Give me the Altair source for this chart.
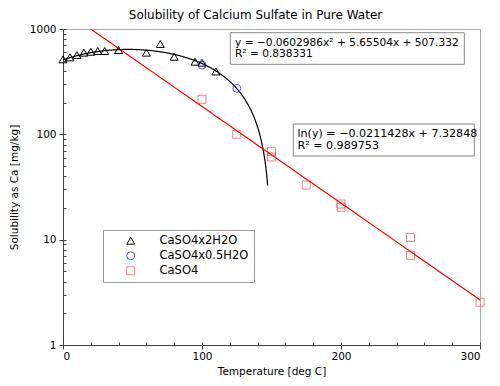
import altair as alt
import pandas as pd

series_names = ["CaSO4x2H2O", "CaSO4x0.5H2O", "CaSO4"]
series_shapes = ["triangle-up", "circle", "square"]
series_colors = ["#000000", "rgba(40,40,230,0.8)", "rgba(240,30,30,0.55)"]

dihydrate_T = [0, 5, 10, 15, 20, 25, 30, 40, 60, 70, 80, 95, 100, 110]
dihydrate_S = [515, 538, 566, 596, 608, 618, 618, 631, 596, 720, 545, 489, 479, 395]
hemihydrate_T = [100, 125]
hemihydrate_S = [455, 273]
anhydrite_T = [100, 125, 150, 150, 175, 200, 200, 250, 250, 300]
anhydrite_S = [215, 100, 69, 61, 33, 21.8, 20.3, 10.5, 7.1, 2.55]

# fit coefficients as shown in the chart
quad_coef = [-0.0602986, 5.65504, 507.332]
exp_coef = [-0.0211428, 7.32848]
quad_T_range = [0, 147.5]
exp_T_range = [0, 301]

eq1_lines = ["y = \u22120.0602986x\u00b2 + 5.65504x + 507.332", "R\u00b2 = 0.838331"]
eq2_lines = ["ln(y) = \u22120.0211428x + 7.32848", "R\u00b2 = 0.989753"]

x_major = [0, 100, 200, 300]
x_minor = [0, 20, 40, 60, 80, 100, 120, 140, 160, 180, 200, 220, 240, 260, 280, 300]
y_major = [1, 10, 100, 1000]
y_minor = [1, 2, 3, 4, 5, 6, 7, 8, 9, 10, 20, 30, 40, 50, 60, 70, 80, 90,
           100, 200, 300, 400, 500, 600, 700, 800, 900, 1000]

rows = []
for name, Ts, Ss in zip(series_names, [dihydrate_T, hemihydrate_T, anhydrite_T],
                        [dihydrate_S, hemihydrate_S, anhydrite_S]):
    rows += [{"T": t, "S": s, "series": name} for t, s in zip(Ts, Ss)]
df = pd.DataFrame(rows)

FONT = "DejaVu Sans"
xs = alt.Scale(domain=[0, 300], nice=False)
ys = alt.Scale(type="log", domain=[1, 1000], nice=False)

legend = alt.Legend(title=None, orient="none", legendX=40, legendY=201,
                    strokeColor="#999999", fillColor="white", padding=5,
                    symbolOffset=17, labelOffset=23, rowPadding=2,
                    labelFontSize=11.5, labelFont=FONT, labelColor="black",
                    symbolSize=64, symbolStrokeWidth=1)

minor = alt.Chart(df).mark_point(opacity=0).encode(
    x=alt.X("T:Q", scale=xs, axis=alt.Axis(orient="bottom", values=x_minor, tickSize=3,
                                            offset=-3, labels=False, domain=False,
                                            title="", grid=False, tickColor="#444444")),
    y=alt.Y("S:Q", scale=ys, axis=alt.Axis(orient="left", values=y_minor, tickSize=3,
                                            offset=-3, labels=False, domain=False,
                                            title="", grid=False, tickColor="#444444")),
)

quad = alt.Chart(alt.sequence(quad_T_range[0], quad_T_range[1], 0.25, as_="T")).transform_calculate(
    S=f"{quad_coef[0]}*datum.T*datum.T + {quad_coef[1]}*datum.T + {quad_coef[2]}"
).mark_line(color="black", strokeWidth=1.2, clip=True).encode(
    x=alt.X("T:Q", scale=xs, axis=None),
    y=alt.Y("S:Q", scale=ys, axis=None),
)

expl = alt.Chart(alt.sequence(exp_T_range[0], exp_T_range[1], 5, as_="T")).transform_calculate(
    S=f"exp({exp_coef[0]}*datum.T + {exp_coef[1]})"
).mark_line(color="#ff0000", strokeWidth=1.2, clip=True).encode(
    x=alt.X("T:Q", scale=xs, axis=None),
    y=alt.Y("S:Q", scale=ys, axis=None),
)

points = alt.Chart(df).mark_point(filled=False, size=64, strokeWidth=1, opacity=1).encode(
    x=alt.X("T:Q", scale=xs, axis=alt.Axis(orient="bottom", values=x_major, tickSize=4,
                                            labelPadding=2, title="Temperature [deg C]",
                                            titlePadding=5, grid=False, format="d",
                                            domainColor="#444444", tickColor="#444444")),
    y=alt.Y("S:Q", scale=ys, axis=alt.Axis(orient="left", values=y_major, tickSize=4,
                                            labelPadding=3, title="Solubility as Ca [mg/kg]",
                                            titlePadding=10, grid=False, format="d",
                                            domainColor="#444444", tickColor="#444444")),
    shape=alt.Shape("series:N", scale=alt.Scale(domain=series_names, range=series_shapes), legend=legend),
    color=alt.Color("series:N", scale=alt.Scale(domain=series_names, range=series_colors), legend=legend),
)

one = alt.Data(values=[{}])


def box(x1, x2, y1, y2):
    return alt.Chart(one).mark_rect(fill="white", stroke="#888888", strokeWidth=1).encode(
        x=alt.value(x1), x2=alt.value(x2), y=alt.value(y1), y2=alt.value(y2))


def label(txt, x, y, size):
    return alt.Chart(one).mark_text(text=txt, align="left", baseline="middle", fontSize=size,
                                    font=FONT, color="black").encode(x=alt.value(x), y=alt.value(y))


annots = [
    box(167.3, 401.3, 3.7, 35.3),
    label(eq1_lines[0], 172, 13.7, 10.6),
    label(eq1_lines[1], 172, 24.5, 10.6),
    box(230.3, 411.3, 95, 127),
    label(eq2_lines[0], 234.5, 105, 11.1),
    label(eq2_lines[1], 234.5, 117, 11.1),
]

chart = alt.layer(minor, quad, expl, points, *annots).resolve_axis(
    x="independent", y="independent"
).properties(
    width=417, height=316,
    padding={"left": 55, "top": 21, "right": 12, "bottom": 33},
    autosize=alt.AutoSizeParams(type="none"),
    title=alt.TitleParams("Solubility of Calcium Sulfate in Pure Water", fontSize=12,
                          fontWeight="normal", anchor="middle", dx=-16, offset=2,
                          frame="group", font=FONT, color="black"),
).configure(font=FONT).configure_axis(
    labelFontSize=10.5, titleFontSize=10.5, titleFontWeight="normal",
    labelColor="black", titleColor="black", labelFont=FONT, titleFont=FONT,
).configure_view(stroke="#aaaaaa", strokeWidth=1)

chart.save("out.html", embed_options={"renderer": "svg", "actions": False})
